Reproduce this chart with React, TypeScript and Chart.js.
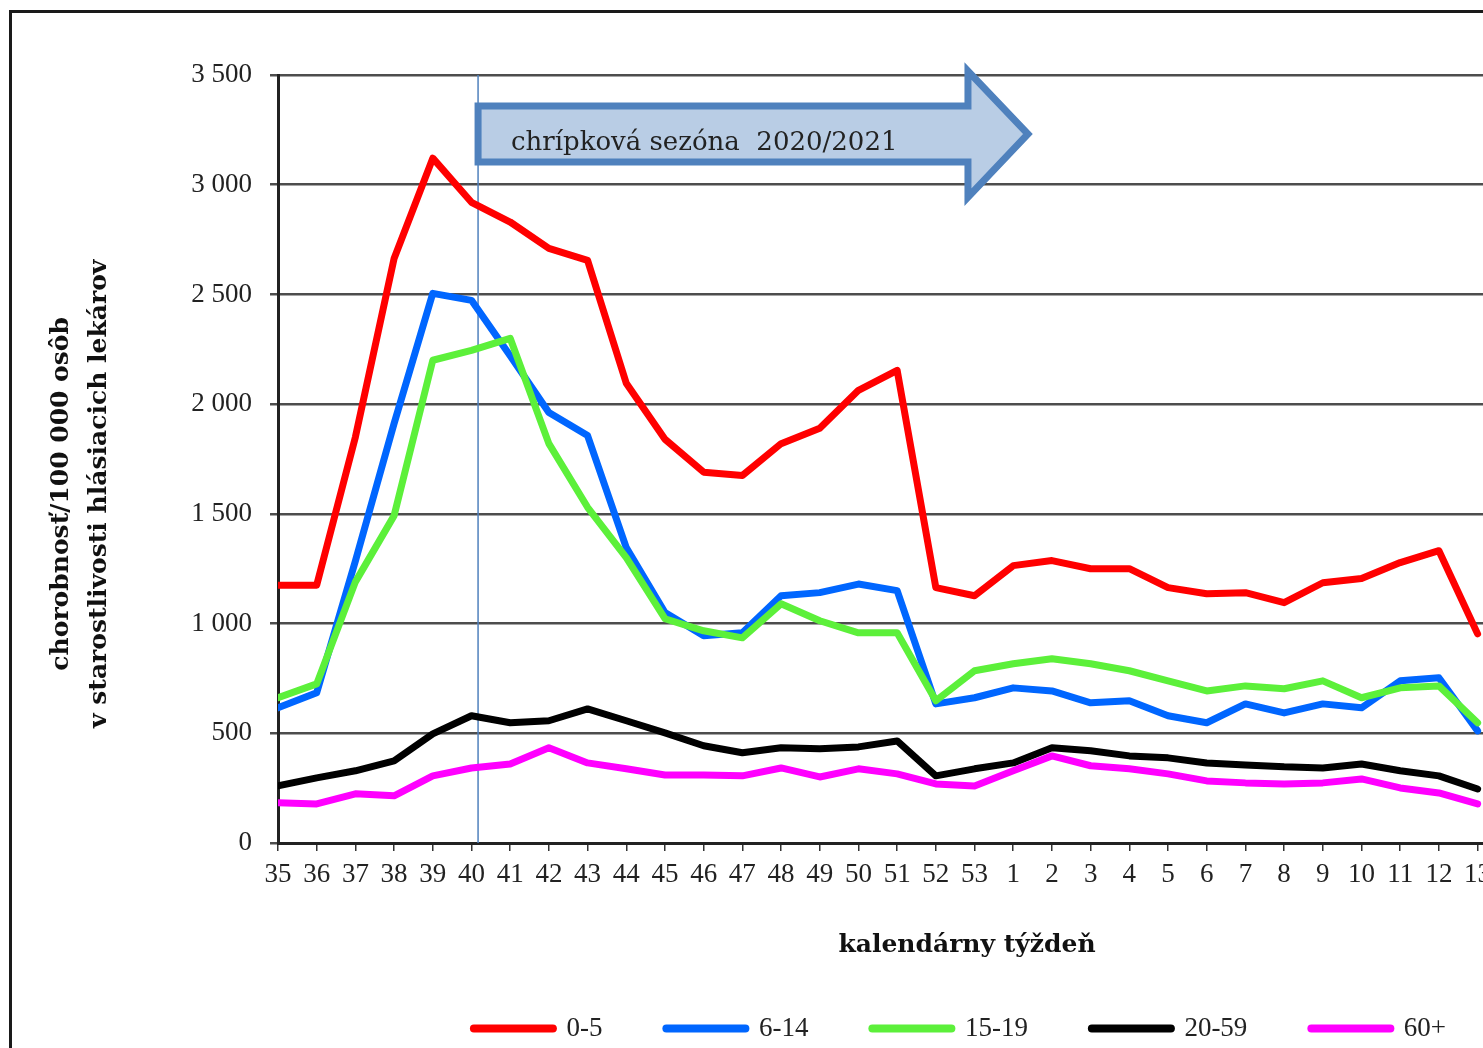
import React, { useEffect, useRef } from 'react';
import { Chart, registerables } from 'chart.js';

Chart.register(...registerables);

// calendar weeks (35..53 of 2020, 1..17 of 2021; the chart is cropped after week 13)
const weekLabels = [
  '35', '36', '37', '38', '39', '40', '41', '42', '43', '44', '45', '46', '47', '48', '49', '50', '51', '52', '53',
  '1', '2', '3', '4', '5', '6', '7', '8', '9', '10', '11', '12', '13', '14', '15', '16', '17',
];

const seriesNames = ['0-5', '6-14', '15-19', '20-59', '60+'];
const seriesColors = ['#FF0000', '#0066FF', '#5CF03A', '#000000', '#FF00FF'];

const age0to5 = [
  1175, 1175, 1850, 2664, 3121, 2920, 2830, 2710, 2655, 2095, 1840, 1690, 1675, 1820, 1890, 2063, 2154, 1164, 1127,
  1264, 1287, 1250, 1250, 1164, 1136, 1141, 1095, 1186, 1205, 1278, 1332, 953,
];
const age6to14 = [
  616, 685, 1285, 1912, 2505, 2473, 2220, 1962, 1857, 1346, 1050, 945, 958, 1127, 1141, 1180, 1150, 634, 662,
  707, 693, 639, 648, 580, 548, 634, 593, 634, 616, 739, 753, 511,
];
const age15to19 = [
  662, 725, 1190, 1492, 2200, 2245, 2300, 1820, 1530, 1300, 1022, 967, 935, 1090, 1013, 958, 958, 648, 785,
  817, 840, 817, 785, 739, 693, 716, 703, 739, 662, 707, 716, 548,
];
const age20to59 = [
  260, 297, 329, 374, 497, 580, 548, 557, 611, 557, 502, 443, 411, 434, 429, 438, 465, 306, 338,
  365, 434, 420, 397, 388, 365, 356, 347, 342, 360, 329, 306, 246,
];
const age60plus = [
  183, 178, 224, 215, 306, 342, 360, 434, 365, 338, 310, 310, 306, 342, 301, 338, 315, 269, 260,
  329, 397, 352, 338, 315, 283, 274, 269, 274, 292, 251, 228, 178,
];

const seriesValues = [age0to5, age6to14, age15to19, age20to59, age60plus];

const yTitleLines = ['chorobnosť/100 000 osôb', 'v starostlivosti hlásiacich lekárov'];
const xTitle = 'kalendárny týždeň';
const seasonText = 'chrípková sezóna  2020/2021';

// season annotation in data units (x = week index, y = value)
const seasonLineX = 5.17;
const arrowTailX = 5.17;
const arrowHeadBaseX = 17.83;
const arrowTipX = 19.38;
const arrowBodyTop = 3359;
const arrowBodyBottom = 3103;
const arrowHeadTop = 3518;
const arrowHeadBottom = 2943;
const seasonTextX = 6.02;
const seasonTextY = 3190;

const SERIF = '"Liberation Serif", "Times New Roman", serif';
const WIDE_SERIF = '"DejaVu Serif", "Liberation Serif", serif';
const NBSP = '\u00A0';

const formatThousands = (v: number) => {
  if (v >= 1000) {
    const rest = String(v % 1000).padStart(3, '0');
    return `${Math.floor(v / 1000)} ${rest}`;
  }
  return String(v);
};

const seasonPlugin = {
  id: 'seasonAnnotation',
  beforeDatasetsDraw(chart: any) {
    const { ctx, scales } = chart;
    const x = scales.x;
    const y = scales.y;
    const px = x.getPixelForValue(seasonLineX);
    ctx.save();
    ctx.strokeStyle = '#4F81BD';
    ctx.lineWidth = 1.5;
    ctx.beginPath();
    ctx.moveTo(px, y.getPixelForValue(3500));
    ctx.lineTo(px, y.getPixelForValue(0));
    ctx.stroke();
    ctx.restore();
  },
  afterDatasetsDraw(chart: any) {
    const { ctx, scales } = chart;
    const x = scales.x;
    const y = scales.y;
    const xt = x.getPixelForValue(arrowTailX);
    const xb = x.getPixelForValue(arrowHeadBaseX);
    const xp = x.getPixelForValue(arrowTipX);
    const yt = y.getPixelForValue(arrowBodyTop);
    const yb = y.getPixelForValue(arrowBodyBottom);
    const yht = y.getPixelForValue(arrowHeadTop);
    const yhb = y.getPixelForValue(arrowHeadBottom);
    const ym = (yt + yb) / 2;
    ctx.save();
    ctx.beginPath();
    ctx.moveTo(xt, yt);
    ctx.lineTo(xb, yt);
    ctx.lineTo(xb, yht);
    ctx.lineTo(xp, ym);
    ctx.lineTo(xb, yhb);
    ctx.lineTo(xb, yb);
    ctx.lineTo(xt, yb);
    ctx.closePath();
    ctx.fillStyle = '#B9CDE5';
    ctx.fill();
    ctx.lineWidth = 7;
    ctx.lineJoin = 'miter';
    ctx.strokeStyle = '#4F81BD';
    ctx.stroke();
    ctx.fillStyle = '#222222';
    ctx.font = `26px ${WIDE_SERIF}`;
    ctx.textAlign = 'left';
    ctx.textBaseline = 'middle';
    ctx.fillText(seasonText, x.getPixelForValue(seasonTextX), y.getPixelForValue(seasonTextY));
    ctx.restore();
  },
};

export default function App() {
  const canvasRef = useRef<HTMLCanvasElement | null>(null);

  useEffect(() => {
    const canvas = canvasRef.current;
    if (!canvas) return;

    const datasets = seriesValues.map((vals, i) => ({
      label: seriesNames[i],
      data: vals.map((v, idx) => ({ x: idx, y: v })),
      borderColor: seriesColors[i],
      backgroundColor: seriesColors[i],
      borderWidth: 7,
      borderJoinStyle: 'round' as const,
      borderCapStyle: 'round' as const,
      pointRadius: 0,
      pointHoverRadius: 0,
      tension: 0,
      order: seriesValues.length - i,
    }));

    const chart = new Chart(canvas, {
      type: 'line',
      data: { datasets },
      options: {
        animation: false,
        responsive: false,
        events: [],
        layout: { padding: { top: 67, left: 0, right: 0, bottom: 0 } },
        scales: {
          x: {
            type: 'linear',
            min: 0,
            max: 35.61,
            afterFit: (s: any) => {
              s.height = 108;
            },
            grid: {
              drawOnChartArea: false,
              drawTicks: true,
              tickLength: 8,
              color: '#333333',
              lineWidth: 1.5,
            },
            border: { display: true, color: '#222222', width: 3 },
            ticks: {
              stepSize: 1,
              autoSkip: false,
              maxRotation: 0,
              minRotation: 0,
              padding: 8,
              color: '#222222',
              font: { family: SERIF, size: 27 },
              callback: (v: any) => weekLabels[v as number] ?? '',
            },
            title: {
              display: true,
              text: xTitle,
              color: '#111111',
              font: { family: WIDE_SERIF, size: 25, weight: 'bold', lineHeight: 0.44 },
              padding: 0,
            },
          },
          y: {
            min: 0,
            max: 3500,
            afterFit: (s: any) => {
              s.width = 270;
            },
            grid: {
              color: '#4d4d4d',
              lineWidth: 2.5,
              drawTicks: true,
              tickLength: 8,
            },
            border: { display: true, color: '#222222', width: 3 },
            ticks: {
              stepSize: 500,
              padding: 18,
              color: '#222222',
              font: { family: SERIF, size: 27 },
              callback: (v: any) => formatThousands(Number(v)),
            },
            title: {
              display: true,
              text: yTitleLines.map((t) => t + NBSP.repeat(8)),
              color: '#111111',
              font: { family: WIDE_SERIF, size: 25, weight: 'bold', lineHeight: 1.52 },
              padding: { top: 34, bottom: 0 },
            },
          },
          y2: {
            position: 'right',
            afterFit: (s: any) => {
              s.width = 256;
            },
            grid: { display: false },
            border: { display: false },
            ticks: { display: false },
          },
        },
        plugins: {
          legend: {
            position: 'bottom',
            labels: {
              usePointStyle: true,
              pointStyle: 'line',
              pointStyleWidth: 79,
              padding: 64,
              color: '#222222',
              font: { family: SERIF, size: 27 },
              sort: (a: any, b: any) => a.datasetIndex - b.datasetIndex,
              generateLabels: (c: any) =>
                (Chart.defaults.plugins.legend.labels.generateLabels as any)(c).map((item: any) => ({
                  ...item,
                  lineWidth: 8,
                  lineCap: 'round',
                  strokeStyle: seriesColors[item.datasetIndex],
                  fillStyle: seriesColors[item.datasetIndex],
                  pointStyle: 'line',
                })),
            },
          },
          tooltip: { enabled: false },
        },
      } as any,
      plugins: [seasonPlugin],
    });

    return () => {
      chart.destroy();
    };
  }, []);

  return (
    <div
      style={{
        position: 'fixed',
        left: 0,
        top: 0,
        width: 1483,
        height: 1048,
        overflow: 'hidden',
        background: '#ffffff',
      }}
    >
      <div
        style={{
          position: 'absolute',
          left: 9,
          top: 10,
          width: 3000,
          height: 3000,
          border: '3px solid #1a1a1a',
          boxSizing: 'border-box',
        }}
      />
      <canvas
        ref={canvasRef}
        width={1904}
        height={1044}
        style={{ position: 'absolute', left: 8, top: 8, width: 1904, height: 1044 }}
      />
    </div>
  );
}
